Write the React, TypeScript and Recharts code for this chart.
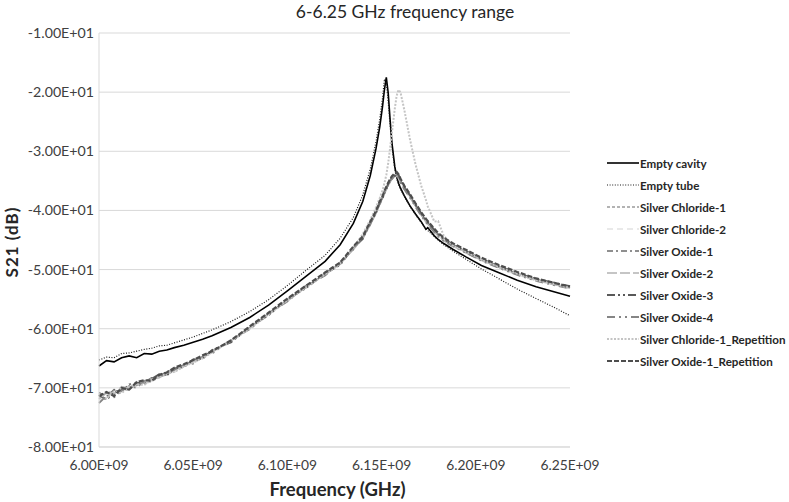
import {
  LineChart,
  Line,
  XAxis,
  YAxis,
  CartesianGrid,
  Label,
} from "recharts";

// ─── Data (frequency in GHz, S21 in dB) ──────────────────────────────────────

const FREQ_GHZ = [
  6.0, 6.004, 6.008, 6.012, 6.016, 6.02, 6.024, 6.028, 6.032, 6.036, 6.04,
  6.045, 6.05, 6.055, 6.06, 6.07, 6.08, 6.09, 6.1, 6.11, 6.12, 6.128, 6.135,
  6.14, 6.144, 6.147, 6.149, 6.1505, 6.1515, 6.1525, 6.1535, 6.1545, 6.1555,
  6.157, 6.158, 6.159, 6.16, 6.162, 6.165, 6.168, 6.171, 6.1735, 6.1745, 6.178,
  6.18, 6.183, 6.188, 6.195, 6.203, 6.212, 6.222, 6.232, 6.241, 6.25,
];

const EMPTY_CAVITY = [
  -66.3, -65.4, -65.6, -64.9, -64.6, -64.9, -64.2, -64.3, -63.8, -63.6, -63.2,
  -62.8, -62.3, -61.8, -61.2, -59.8, -58.1, -56.0, -53.6, -51.1, -48.6, -45.8,
  -42.2, -38.5, -34.1, -29.6, -25.9, -22.4, -19.6, -17.5, -20.1, -24.6, -28.6,
  -32.6, -34.3, -35.4, -36.2, -37.5, -39.2, -40.6, -41.9, -43.2, -42.9, -44.3,
  -44.9, -45.6, -46.6, -47.9, -49.3, -50.5, -51.8, -52.9, -53.7, -54.5,
];

const EMPTY_TUBE = [
  -65.3, -64.8, -64.9, -64.2, -64.1, -63.8, -63.5, -63.3, -62.9, -62.8, -62.4,
  -61.9, -61.4, -60.8, -60.2, -58.8, -57.1, -55.1, -52.7, -50.1, -47.6, -44.7,
  -41.2, -37.4, -33.0, -28.4, -24.6, -21.0, -17.8, -18.4, -21.6, -25.6, -29.3,
  -33.0, -34.6, -35.6, -36.4, -37.6, -39.3, -40.7, -42.0, -43.1, -43.4, -44.4,
  -45.0, -45.8, -46.9, -48.3, -49.9, -51.5, -53.3, -54.9, -56.3, -57.8,
];

const SILVER_CHLORIDE_1 = [
  -71.6, -70.9, -71.2, -70.2, -69.9, -69.6, -68.9, -68.7, -67.9, -67.6, -67.1,
  -66.2, -65.6, -64.8, -63.9, -62.0, -59.9, -57.5, -55.2, -52.9, -50.8, -49.0,
  -46.4, -44.6, -42.2, -40.3, -38.8, -37.8, -37.0, -36.3, -35.6, -35.0, -34.5,
  -34.0, -33.9, -34.3, -35.0, -36.2, -37.6, -39.2, -40.7, -41.8, -42.2, -43.5,
  -44.2, -45.0, -46.0, -47.1, -48.4, -49.6, -50.8, -51.8, -52.4, -53.0,
];

const SILVER_CHLORIDE_2 = [
  -72.4, -71.0, -70.4, -70.8, -69.5, -69.9, -68.6, -68.9, -68.2, -67.3, -67.4,
  -66.0, -65.8, -64.6, -64.1, -61.8, -60.0, -57.3, -55.3, -52.8, -50.9, -48.9,
  -46.5, -44.5, -42.3, -40.2, -38.9, -37.7, -37.1, -36.2, -35.7, -34.9, -34.6,
  -34.1, -34.0, -34.4, -35.1, -36.3, -37.7, -39.3, -40.8, -41.9, -42.3, -43.6,
  -44.3, -45.1, -46.1, -47.2, -48.5, -49.7, -50.9, -51.9, -52.5, -53.1,
];

const SILVER_OXIDE_1 = [
  -70.8, -71.5, -70.3, -70.6, -69.4, -69.2, -69.1, -68.3, -68.1, -67.2, -66.9,
  -66.3, -65.4, -64.9, -63.8, -62.1, -59.8, -57.6, -55.1, -53.0, -50.7, -49.1,
  -46.3, -44.7, -42.1, -40.4, -38.7, -37.9, -36.9, -36.4, -35.5, -35.1, -34.4,
  -34.1, -33.7, -34.1, -34.9, -36.1, -37.5, -39.1, -40.6, -41.7, -42.1, -43.4,
  -44.1, -44.9, -45.9, -47.0, -48.3, -49.5, -50.7, -51.7, -52.3, -52.9,
];

const SILVER_OXIDE_2 = [
  -71.9, -70.6, -71.0, -69.8, -70.1, -69.3, -69.2, -68.4, -68.3, -67.4, -66.8,
  -66.4, -65.5, -65.0, -63.7, -62.2, -59.9, -57.4, -55.3, -52.9, -50.9, -49.0,
  -46.6, -44.8, -42.4, -40.5, -39.0, -38.0, -37.2, -36.5, -35.8, -35.2, -34.7,
  -34.3, -34.2, -34.5, -35.2, -36.4, -37.8, -39.3, -40.8, -41.9, -42.3, -43.6,
  -44.3, -45.1, -46.0, -47.2, -48.4, -49.6, -50.8, -51.8, -52.5, -53.1,
];

const SILVER_OXIDE_3 = [
  -71.2, -72.0, -70.7, -70.4, -70.2, -69.1, -69.4, -68.5, -67.7, -67.9, -66.7,
  -66.5, -65.2, -65.1, -63.6, -62.3, -59.7, -57.7, -55.0, -53.1, -50.6, -49.2,
  -46.2, -44.8, -42.0, -40.5, -38.6, -38.0, -36.8, -36.5, -35.4, -35.2, -34.3,
  -34.2, -33.6, -34.0, -34.8, -36.0, -37.4, -39.0, -40.5, -41.6, -42.0, -43.3,
  -44.0, -44.8, -45.8, -46.9, -48.2, -49.4, -50.6, -51.6, -52.2, -52.8,
];

const SILVER_OXIDE_4 = [
  -72.6, -71.3, -71.6, -70.5, -69.7, -70.0, -68.8, -69.0, -68.0, -67.8, -67.0,
  -66.1, -65.9, -64.7, -64.2, -61.9, -60.1, -57.4, -55.4, -52.7, -51.0, -48.8,
  -46.6, -44.5, -42.4, -40.2, -39.0, -37.7, -37.2, -36.2, -35.8, -34.9, -34.7,
  -34.1, -34.2, -34.6, -35.3, -36.4, -37.8, -39.4, -40.9, -42.0, -42.4, -43.7,
  -44.4, -45.2, -46.1, -47.2, -48.5, -49.7, -50.9, -51.9, -52.6, -53.2,
];

const SILVER_CHLORIDE_1_REP = [
  -71.0, -71.8, -70.6, -70.9, -69.8, -69.4, -69.5, -68.6, -68.2, -67.5, -67.3,
  -66.4, -65.7, -65.0, -64.0, -62.1, -60.0, -57.6, -55.2, -53.0, -50.8, -49.0,
  -46.3, -44.0, -41.6, -39.5, -37.9, -36.6, -35.4, -34.0, -32.0, -29.5, -26.8,
  -22.8, -20.6, -19.6, -20.0, -22.9, -27.9, -32.2, -35.8, -38.2, -39.3, -41.9,
  -41.8, -44.3, -46.0, -47.0, -48.3, -49.5, -50.7, -51.8, -52.4, -53.1,
];

const SILVER_OXIDE_1_REP = [
  -71.4, -70.7, -71.4, -70.0, -70.3, -69.0, -68.7, -68.8, -67.8, -67.4, -66.6,
  -66.0, -65.3, -64.5, -63.8, -62.0, -59.6, -57.3, -54.9, -52.7, -50.5, -48.8,
  -46.1, -44.4, -41.9, -40.1, -38.5, -37.6, -36.7, -36.0, -35.3, -34.7, -34.2,
  -33.7, -33.5, -33.9, -34.6, -35.8, -37.2, -38.8, -40.3, -41.4, -41.8, -43.1,
  -43.8, -44.6, -45.6, -46.7, -48.0, -49.2, -50.4, -51.5, -52.2, -52.9,
];

const X_TICKS = [6.0, 6.05, 6.1, 6.15, 6.2, 6.25];
const Y_TICKS = [-80, -70, -60, -50, -40, -30, -20, -10];

// ─── Series styling ──────────────────────────────────────────────────────────

const SERIES = [
  { key: "s0", name: "Empty cavity", values: EMPTY_CAVITY, color: "#000000", dash: undefined, width: 1.6 },
  { key: "s1", name: "Empty tube", values: EMPTY_TUBE, color: "#1a1a1a", dash: "1 1.6", width: 1.2 },
  { key: "s2", name: "Silver Chloride-1", values: SILVER_CHLORIDE_1, color: "#9a9a9a", dash: "3 2", width: 1.6 },
  { key: "s3", name: "Silver Chloride-2", values: SILVER_CHLORIDE_2, color: "#e2e2e2", dash: "6 4", width: 1.6 },
  { key: "s4", name: "Silver Oxide-1", values: SILVER_OXIDE_1, color: "#6b6b6b", dash: "6 3 2 3", width: 1.6 },
  { key: "s5", name: "Silver Oxide-2", values: SILVER_OXIDE_2, color: "#b3b3b3", dash: "10 3", width: 1.6 },
  { key: "s6", name: "Silver Oxide-3", values: SILVER_OXIDE_3, color: "#595959", dash: "8 3 2 3 2 3", width: 2 },
  { key: "s7", name: "Silver Oxide-4", values: SILVER_OXIDE_4, color: "#858585", dash: "8 4 2 4 2 4", width: 1.8 },
  { key: "s8", name: "Silver Chloride-1_Repetition", values: SILVER_CHLORIDE_1_REP, color: "#c4c4c4", dash: "2 1.5", width: 2 },
  { key: "s9", name: "Silver Oxide-1_Repetition", values: SILVER_OXIDE_1_REP, color: "#4d4d4d", dash: "5 2", width: 2.2 },
];

const data = FREQ_GHZ.map((f, i) => {
  const row: Record<string, number> = { f };
  SERIES.forEach((s) => {
    row[s.key] = s.values[i];
  });
  return row;
});

const FONT = "Lato, 'Open Sans', sans-serif";
const TEXT = "#262626";

// ─── Legend ──────────────────────────────────────────────────────────────────

function SideLegend() {
  return (
    <div style={{ position: "absolute", left: 607, top: 152, fontFamily: FONT }}>
      {SERIES.map((s) => (
        <div
          key={s.key}
          style={{ display: "flex", alignItems: "center", height: 22 }}
        >
          <svg width={32} height={10} style={{ marginRight: 1 }}>
            <line
              x1={0}
              y1={5}
              x2={32}
              y2={5}
              stroke={s.color}
              strokeWidth={s.width}
              strokeDasharray={s.dash}
            />
          </svg>
          <span style={{ fontSize: 11.6, fontWeight: 700, color: TEXT, whiteSpace: "nowrap" }}>
            {s.name}
          </span>
        </div>
      ))}
    </div>
  );
}

// rotated y-axis title, centred on the plot height
function YTitle({ viewBox }: any) {
  const cx = 11;
  const cy = viewBox.y + viewBox.height / 2 + 2;
  return (
    <text
      x={cx}
      y={cy}
      transform={`rotate(-90, ${cx}, ${cy})`}
      textAnchor="middle"
      dominantBaseline="central"
      fontSize={17}
      fontWeight={700}
      letterSpacing={1}
      fill={TEXT}
      fontFamily={FONT}
    >
      S21 (dB)
    </text>
  );
}

// ─── Main ────────────────────────────────────────────────────────────────────

export default function App() {
  return (
    <div
      style={{
        position: "absolute",
        left: 0,
        top: 0,
        width: 789,
        height: 502,
        background: "#fff",
        fontFamily: FONT,
      }}
    >
      <div
        style={{
          position: "absolute",
          left: 0,
          width: 810,
          top: 1,
          textAlign: "center",
          fontSize: 17.5,
          color: TEXT,
        }}
      >
        6-6.25 GHz frequency range
      </div>

      <LineChart
        width={789}
        height={502}
        data={data}
        margin={{ top: 33, right: 219, left: 4, bottom: 5 }}
      >
        <CartesianGrid vertical={false} stroke="#d9d9d9" />
        <XAxis
          dataKey="f"
          type="number"
          domain={[6.0, 6.25]}
          ticks={X_TICKS}
          tickFormatter={(v: number) => `${v.toFixed(2)}E+09`}
          axisLine={{ stroke: "#d9d9d9" }}
          tickLine={false}
          tickSize={0}
          tickMargin={13}
          height={50}
          tick={{ fontSize: 13.8, fill: "#404040", fontFamily: FONT }}
          label={{
            value: "Frequency (GHz)",
            position: "insideBottom",
            offset: 1,
            dx: 3,
            style: { fontSize: 18.5, fontWeight: 700, fill: TEXT, fontFamily: FONT },
          }}
        />
        <YAxis
          type="number"
          domain={[-80, -10]}
          ticks={Y_TICKS}
          tickFormatter={(v: number) => `${(v / 10).toFixed(2)}E+01`}
          axisLine={{ stroke: "#d9d9d9" }}
          tickLine={false}
          tickSize={0}
          tickMargin={5}
          width={95}
          tick={{ fontSize: 14.2, fill: "#404040", fontFamily: FONT }}
        >
          <Label content={<YTitle />} />
        </YAxis>
        {SERIES.map((s) => (
          <Line
            key={s.key}
            type="linear"
            dataKey={s.key}
            name={s.name}
            stroke={s.color}
            strokeWidth={s.width}
            strokeDasharray={s.dash}
            dot={false}
            activeDot={false}
            isAnimationActive={false}
          />
        ))}
      </LineChart>

      <SideLegend />
    </div>
  );
}
